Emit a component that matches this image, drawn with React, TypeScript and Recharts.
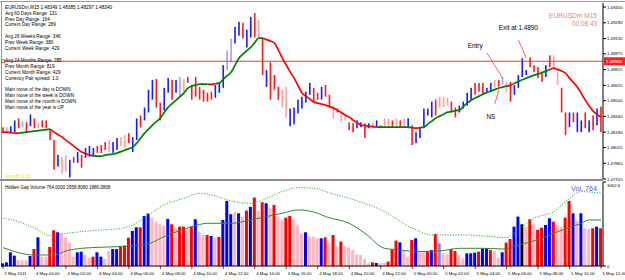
import { ComposedChart, Bar, Line, XAxis, YAxis, ReferenceLine, ReferenceDot, Cell } from 'recharts'

const FONT = "'Liberation Sans', Arial, sans-serif"

const timeLabels = [
  '2 May 2011', '4 May 00:00', '4 May 02:00', '4 May 04:00', '4 May 06:00',
  '4 May 08:00', '4 May 10:00', '4 May 12:00', '4 May 14:00', '4 May 16:00',
  '4 May 18:00', '4 May 20:00', '4 May 22:00', '5 May 00:00', '5 May 02:00',
  '5 May 04:00', '5 May 06:00', '5 May 08:00', '5 May 10:00', '5 May 12:00',
]

const priceTicks = [1.47705, 1.47865, 1.48025, 1.4818, 1.4834, 1.485, 1.48655, 1.48815, 1.48975, 1.4913, 1.4929, 1.4945]

// M15 bars, high / low
const highs = [
  1.4823, 1.4823, 1.4824, 1.4830, 1.4832, 1.4829, 1.4828, 1.4836, 1.4832, 1.4827,
  1.4830, 1.4830, 1.4820, 1.4810, 1.4795, 1.4793, 1.4795, 1.4790, 1.4793, 1.4798,
  1.4795, 1.4802, 1.4804, 1.4802, 1.4804, 1.4805, 1.4808, 1.4810, 1.4808, 1.4812,
  1.4813, 1.4815, 1.4817, 1.4813, 1.4832, 1.4835, 1.4843, 1.4861, 1.4871, 1.4872,
  1.4848, 1.4863, 1.4873, 1.4871, 1.4871, 1.4874, 1.4872, 1.4874, 1.4866, 1.4874,
  1.4864, 1.4861, 1.4858, 1.4859, 1.4866, 1.4869, 1.4886, 1.4901, 1.4913, 1.4925,
  1.4930, 1.4929, 1.4922, 1.4935, 1.4939, 1.4932, 1.4914, 1.4881, 1.4889, 1.4876,
  1.4864, 1.4861, 1.4864, 1.4842, 1.4843, 1.4851, 1.4854, 1.4859, 1.4868, 1.4863,
  1.4858, 1.4864, 1.4866, 1.4856, 1.4845, 1.4842, 1.4837, 1.4835, 1.4828, 1.4827,
  1.4830, 1.4828, 1.4827, 1.4827, 1.4828, 1.4830, 1.4825, 1.4832, 1.4832, 1.4830,
  1.4832, 1.4830, 1.4832, 1.4832, 1.4825, 1.4818, 1.4823, 1.4842, 1.4842, 1.4849,
  1.4851, 1.4854, 1.4854, 1.4853, 1.4849, 1.4843, 1.4845, 1.4849, 1.4858, 1.4863,
  1.4868, 1.4868, 1.4868, 1.4863, 1.4868, 1.4871, 1.4871, 1.4874, 1.4869, 1.4869,
  1.4866, 1.4876, 1.4893, 1.4881, 1.4894, 1.4886, 1.4884, 1.4879, 1.4886, 1.4896,
  1.4896, 1.4879, 1.4863, 1.4838, 1.4838, 1.4838, 1.4838, 1.4830, 1.4838, 1.4830,
  1.4835, 1.4842, 1.4844,
]

const lows = [
  1.4817, 1.4819, 1.4817, 1.4818, 1.4822, 1.4823, 1.4818, 1.4824, 1.4822, 1.4822,
  1.4823, 1.4822, 1.4810, 1.4780, 1.4783, 1.4776, 1.4778, 1.4772, 1.4787, 1.4787,
  1.4782, 1.4792, 1.4793, 1.4793, 1.4797, 1.4797, 1.4800, 1.4798, 1.4797, 1.4800,
  1.4804, 1.4802, 1.4807, 1.4798, 1.4810, 1.4823, 1.4830, 1.4838, 1.4851, 1.4843,
  1.4830, 1.4840, 1.4858, 1.4851, 1.4858, 1.4854, 1.4858, 1.4868, 1.4851, 1.4854,
  1.4851, 1.4849, 1.4849, 1.4851, 1.4853, 1.4858, 1.4863, 1.4881, 1.4889, 1.4908,
  1.4916, 1.4913, 1.4904, 1.4914, 1.4914, 1.4914, 1.4876, 1.4864, 1.4851, 1.4861,
  1.4851, 1.4843, 1.4833, 1.4824, 1.4826, 1.4837, 1.4842, 1.4848, 1.4856, 1.4848,
  1.4851, 1.4851, 1.4854, 1.4843, 1.4832, 1.4838, 1.4828, 1.4830, 1.4820, 1.4818,
  1.4822, 1.4823, 1.4812, 1.4822, 1.4822, 1.4823, 1.4822, 1.4822, 1.4823, 1.4823,
  1.4823, 1.4823, 1.4823, 1.4822, 1.4805, 1.4807, 1.4812, 1.4822, 1.4835, 1.4833,
  1.4835, 1.4843, 1.4843, 1.4845, 1.4838, 1.4833, 1.4838, 1.4842, 1.4845, 1.4851,
  1.4856, 1.4859, 1.4856, 1.4858, 1.4859, 1.4863, 1.4864, 1.4866, 1.4859, 1.4849,
  1.4856, 1.4863, 1.4874, 1.4876, 1.4884, 1.4879, 1.4873, 1.4869, 1.4874, 1.4884,
  1.4883, 1.4866, 1.4838, 1.4815, 1.4823, 1.4828, 1.4818, 1.4818, 1.4822, 1.4818,
  1.4820, 1.4825, 1.4818,
]

// B up, R down, b / p pale up / down
const barTone = (
  'RpBBRbRBRp' + 'RRRRBppBRB' + 'RBBBRRRpBB' + 'ppRBBRBBBR' + 'RBBRBbpRRR' +
  'RRRRBBBbbB' + 'BRBBRpRBRR' + 'RppBBBBBBR' + 'RBRRpRppRR' + 'BBRBpBRppR' +
  'pRpBRBBBBB' + 'RpppRRBBBB' + 'RRRBBpRbpR' + 'BBBBRRRRBR' + 'ppRRBRBBRB' + 'RBR'
).split('')

// moving average on price
const ma = [
  1.48181, 1.48181, 1.48176, 1.48171, 1.48171, 1.48176, 1.48181, 1.48186, 1.48191, 1.48196,
  1.48201, 1.48206, 1.48211, 1.48181, 1.48155, 1.48130, 1.48100, 1.48069, 1.48039, 1.48008,
  1.47978, 1.47963, 1.47948, 1.47942, 1.47937, 1.47937, 1.47948, 1.47953, 1.47958, 1.47968,
  1.47983, 1.47998, 1.48013, 1.48029, 1.48069, 1.48120, 1.48171, 1.48211, 1.48252, 1.48287,
  1.48323, 1.48379, 1.48434, 1.48470, 1.48505, 1.48541, 1.48577, 1.48627, 1.48648, 1.48658,
  1.48668, 1.48668, 1.48668, 1.48666, 1.48673, 1.48678, 1.48719, 1.48754, 1.48790, 1.48861,
  1.48932, 1.48972, 1.49008, 1.49043, 1.49089, 1.49134, 1.49134, 1.49119, 1.49104, 1.49084,
  1.49013, 1.48932, 1.48861, 1.48790, 1.48729, 1.48653, 1.48577, 1.48546, 1.48516, 1.48485,
  1.48475, 1.48465, 1.48455, 1.48440, 1.48424, 1.48404, 1.48379, 1.48353, 1.48333, 1.48303,
  1.48277, 1.48252, 1.48247, 1.48242, 1.48237, 1.48232, 1.48232, 1.48232, 1.48232, 1.48232,
  1.48232, 1.48232, 1.48232, 1.48232, 1.48227, 1.48221, 1.48227, 1.48232, 1.48262, 1.48292,
  1.48323, 1.48343, 1.48363, 1.48384, 1.48389, 1.48399, 1.48404, 1.48440, 1.48475, 1.48505,
  1.48526, 1.48546, 1.48566, 1.48582, 1.48597, 1.48612, 1.48627, 1.48637, 1.48648, 1.48658,
  1.48678, 1.48693, 1.48713, 1.48729, 1.48744, 1.48759, 1.48769, 1.48785, 1.48800, 1.48815,
  1.48830, 1.48815, 1.48800, 1.48779, 1.48729, 1.48683, 1.48637, 1.48571, 1.48505, 1.48445,
  1.48394, 1.48358, 1.48333,
]

// bar ranges where the average is drawn red
const maDownRanges = [[0, 4], [12, 22], [52, 54], [66, 95], [104, 106], [128, 130], [139, 152]]

const volume = [
  97, 134, 499, 377, 219, 207, 207, 365, 620, 1046,
  341, 341, 694, 1302, 1229, 1192, 1034, 852, 341, 499,
  523, 402, 304, 341, 499, 341, 256, 548, 620, 620,
  706, 742, 1034, 1278, 1411, 1411, 1825, 1910, 1764, 1618,
  1521, 1472, 1716, 1521, 1375, 1436, 1436, 1375, 1436, 1703,
  1253, 1132, 1132, 1095, 1034, 1059, 1679, 2373, 1886, 1959,
  1922, 1801, 2020, 2154, 2494, 2008, 2324, 2287, 2105, 2227,
  1801, 1679, 1764, 1825, 1679, 1472, 1192, 1229, 1071, 1071,
  1010, 1010, 1046, 852, 1132, 706, 888, 730, 669, 584,
  426, 402, 256, 97, 134, 110, 110, 110, 158, 608,
  925, 864, 548, 341, 949, 1010, 499, 499, 548, 584,
  1168, 827, 462, 426, 620, 548, 377, 280, 462, 462,
  487, 523, 645, 645, 584, 548, 304, 499, 852, 986,
  1436, 1801, 1521, 1436, 1703, 1521, 1314, 1399, 1497, 1740,
  1618, 1497, 1436, 1764, 2373, 1922, 1655, 1922, 1375, 1350,
  1375, 1436, 1375,
]

const volTone = (
  'BBBBpppBRB' + 'ppRRBppppB' + 'BppRBBppBB' + 'RRRBBRBBpp' + 'ppBRpRRpRB' +
  'ppRBpRBBBp' + 'BpRBRpRBpR' + 'ppRRpppBpp' + 'pBRpRpRppp' + 'ppppRBppRR' +
  'RBppRBppRB' + 'RbppRRppBB' + 'BRBBRppBRR' + 'BBKpRpRRBB' + 'RppRRBpBpp' + 'RBR'
).split('')

// [bar, value]
const volMaPoints: [number, number][] = [
  [0, 669], [8, 402], [13, 402], [16, 548], [20, 645], [29, 706], [36, 767], [41, 1071],
  [48, 1436], [52, 1557], [58, 1557], [63, 1679], [67, 1801], [71, 1922], [75, 2044],
  [80, 1922], [82, 1801], [88, 1557], [92, 1192], [97, 645], [101, 584], [105, 523],
  [111, 548], [116, 645], [122, 645], [127, 620], [131, 767], [137, 1010], [141, 1253],
  [147, 1557], [149, 1679], [152, 1679],
]

const volBandPoints: [number, number][] = [
  [0, 1740], [4, 1618], [8, 1375], [12, 1107], [16, 1192], [20, 1253], [25, 1314],
  [29, 1350], [33, 1497], [37, 1862], [41, 2227], [46, 2470], [50, 2652], [53, 2592],
  [58, 2373], [63, 2287], [67, 2470], [71, 2713], [75, 2859], [80, 2811], [82, 2713],
  [88, 2470], [97, 1983], [104, 1375], [109, 1132], [118, 1132], [124, 1071], [128, 1034],
  [131, 1314], [135, 1740], [140, 1983], [143, 2348], [147, 2713], [152, 2652],
]

const infoLines = [
  'EURUSDm,M15  1.48349 1.48385 1.48297 1.48340',
  'Avg 60 Days Range: 131',
  'Prev Day Range: 164',
  'Current Day Range: 289',
  '',
  'Avg 26 Weeks Range: 346',
  'Prev Week Range: 380',
  'Current Week Range: 429',
  '',
  'Avg 24 Months Range: 785',
  'Prev Month Range: 819',
  'Current Month Range: 429',
  'Currency Pair spread: 1.0',
  '',
  'Main move of the day is DOWN',
  'Main move of the week is DOWN',
  'Main move of the month is DOWN',
  'Main move of the year is UP',
]

const MAIN_TONE: Record<string, string> = { B: '#1a1aff', R: '#ff1a1a', b: '#a0a0ff', p: '#ffa0a0' }
const VOL_TONE: Record<string, string> = { B: '#0000ff', R: '#ff0000', b: '#7f7fff', p: '#ffb6c1', K: '#000000' }

const inDown = (i: number) => maDownRanges.some(([a, b]) => i >= a && i <= b)
const inUp = (i: number) => !maDownRanges.some(([a, b]) => i > a && i < b)
const volMaMap = new Map(volMaPoints)
const volBandMap = new Map(volBandPoints)

const data = highs.map((h, i) => ({
  idx: i,
  range: [lows[i], h],
  tone: barTone[i],
  maUp: inUp(i) ? ma[i] : null,
  maDown: inDown(i) ? ma[i] : null,
  vol: volume[i],
  volTone: volTone[i],
  volMa: volMaMap.get(i) ?? null,
  volBand: volBandMap.get(i) ?? null,
}))

function OhlcStick(props: any) {
  const { x, y, width, height, payload } = props
  if (x == null || y == null) return null
  const top = height < 0 ? y + height : y
  return (
    <rect
      x={x + width / 2 - 0.8}
      y={top}
      width={1.6}
      height={Math.max(Math.abs(height), 1)}
      fill={MAIN_TONE[payload.tone]}
    />
  )
}

function PriceTag(props: any) {
  const vb = props.viewBox
  if (!vb) return null
  const right = vb.x + vb.width
  return (
    <g>
      <rect x={vb.x + 0.5} y={vb.y - 1.5} width={3} height={3} fill="#fff" stroke="#ff2020" strokeWidth={0.8} />
      <rect x={right + 1} y={vb.y - 4} width={21} height={8} fill="#ff2020" />
      <text x={right + 3} y={vb.y + 1.6} fontSize={4.4} fill="#fff" fontFamily={FONT}>1.48900</text>
    </g>
  )
}

function TimeTick(props: any) {
  const { x, y, payload } = props
  const label = timeLabels[payload.value / 8]
  if (!label) return null
  return (
    <g>
      <line x1={x} x2={x} y1={y} y2={y + 3} stroke="#000" strokeWidth={0.7} />
      <text x={x + 1.5} y={y + 9} fontSize={4.3} fill="#000" fontFamily={FONT}>{label}</text>
    </g>
  )
}

function VolTick(props: any) {
  const { x, y, payload } = props
  const isTop = payload.value > 0
  return (
    <text x={x} y={y + (isTop ? 5 : 1.5)} fontSize={4.3} fill="#000" fontFamily={FONT}>
      {isTop ? '3062.6' : '0'}
    </text>
  )
}

const noteText = (txt: string, size = 6.4) => (p: any) => (
  <text x={p.cx} y={p.cy + size * 0.35} textAnchor="middle" fontSize={size} fill="#000" fontFamily={FONT}>{txt}</text>
)

export default function App() {
  return (
    <div style={{ position: 'absolute', left: 0, top: 0, width: 625, height: 280, background: '#fff', overflow: 'hidden', fontFamily: FONT }}>
      <div style={{ position: 'absolute', left: 0, top: 1, width: 625, height: 1, background: '#9a9a9a' }} />
      <div style={{ position: 'absolute', left: 1, top: 1, width: 1, height: 266, background: '#9a9a9a' }} />
      <div style={{ position: 'absolute', left: 0, top: 179, width: 603, height: 2, background: '#8c8c8c' }} />

      <div style={{ position: 'absolute', left: 0, top: 0 }}>
        <ComposedChart width={625} height={186} data={data} margin={{ top: 3, right: 0, left: 1, bottom: 7 }}>
          <XAxis dataKey="idx" hide />
          <YAxis
            orientation="right"
            width={22}
            domain={[1.47705, 1.49491]}
            allowDataOverflow
            ticks={priceTicks}
            interval={0}
            tickFormatter={(v: number) => v.toFixed(5)}
            tick={{ fontSize: 4.3, fill: '#000', fontFamily: FONT }}
            tickSize={3}
            tickMargin={1}
            axisLine={{ stroke: '#000' }}
            tickLine={{ stroke: '#000' }}
          />
          <ReferenceLine y={1.489} stroke="#ff3030" strokeWidth={1} label={PriceTag} />
          <Bar dataKey="range" shape={OhlcStick} isAnimationActive={false} />
          <Line dataKey="maUp" type="monotone" stroke="#008000" strokeWidth={1.7} dot={false} isAnimationActive={false} />
          <Line dataKey="maDown" type="monotone" stroke="#ff0000" strokeWidth={1.7} dot={false} isAnimationActive={false} />
          <ReferenceLine segment={[{ x: 123, y: 1.48984 }, { x: 127, y: 1.4873 }]} stroke="#ff4040" strokeWidth={0.8} />
          <ReferenceLine segment={[{ x: 131, y: 1.49116 }, { x: 133, y: 1.48933 }]} stroke="#ff4040" strokeWidth={0.8} />
          <ReferenceLine segment={[{ x: 126, y: 1.48608 }, { x: 125, y: 1.48466 }]} stroke="#ff4040" strokeWidth={0.8} />
          <ReferenceDot x={120} y={1.49055} r={1} shape={noteText('Entry')} />
          <ReferenceDot x={131} y={1.49237} r={1} shape={noteText('Exit at 1.4890')} />
          <ReferenceDot x={124} y={1.48334} r={1} shape={noteText('NS')} />
        </ComposedChart>
      </div>

      <div style={{ position: 'absolute', left: 0, top: 181 }}>
        <ComposedChart width={625} height={99} data={data} margin={{ top: 1, right: 0, left: 1, bottom: 0 }}>
          <XAxis
            dataKey="idx"
            height={14}
            interval={7}
            tick={TimeTick}
            tickLine={false}
            tickSize={0}
            tickMargin={0}
            axisLine={{ stroke: '#000' }}
          />
          <YAxis
            orientation="right"
            width={22}
            domain={[0, 3062.6]}
            ticks={[0, 3062.6]}
            interval={0}
            tick={VolTick}
            tickSize={3}
            tickMargin={1}
            axisLine={{ stroke: '#000' }}
            tickLine={{ stroke: '#000' }}
          />
          <Bar dataKey="vol" barSize={3} isAnimationActive={false}>
            {data.map((d) => (
              <Cell key={d.idx} fill={VOL_TONE[d.volTone]} />
            ))}
          </Bar>
          <Line dataKey="volBand" type="monotone" connectNulls stroke="#3cae3c" strokeWidth={1} strokeDasharray="1.2 1.4" dot={false} isAnimationActive={false} />
          <Line dataKey="volMa" type="monotone" connectNulls stroke="#2f8a2f" strokeWidth={1} dot={false} isAnimationActive={false} />
        </ComposedChart>
      </div>

      <svg width={625} height={280} style={{ position: 'absolute', left: 0, top: 0, pointerEvents: 'none' }}>
        {infoLines.map((line, k) => (
          <text key={k} x={5} y={8.7 + 5.9 * k} fontSize={4.7} fill="#000" fontFamily={FONT}>{line}</text>
        ))}
        <text x={5} y={178} fontSize={4.7} fill="#e8e800" fontFamily={FONT}>Growth 1.23</text>
        <text x={597} y={17.5} textAnchor="end" fontSize={6.6} fill="#f08080" fontFamily={FONT}>EURUSDm  M15</text>
        <text x={597} y={25.5} textAnchor="end" fontSize={6.4} fill="#f08080" fontFamily={FONT}>00:08:43</text>
        <text x={5} y={188.6} fontSize={4.5} fill="#000" fontFamily={FONT}>Hidden Gap Volume 764.0000 2958.8080 1886.0808</text>
        <text x={597} y={190.5} textAnchor="end" fontSize={7.2} fill="#4169e1" fontFamily={FONT}>Vol. 764</text>
      </svg>
    </div>
  )
}
